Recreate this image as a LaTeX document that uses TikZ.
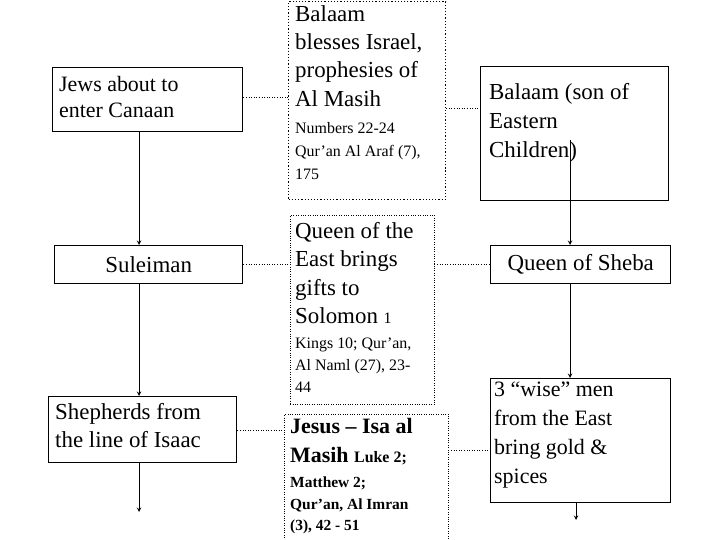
\documentclass[tikz,border=0pt]{standalone}
\usepackage{fontspec}
\setmainfont{Liberation Serif}
\newcommand{\bigf}{\fontsize{23}{28.5}\selectfont}
\newcommand{\smf}{\fontsize{16}{22}\selectfont}
\begin{document}
\begin{tikzpicture}[x=1bp,y=-1bp,
  sbox/.style={draw,line width=1.4pt,minimum width=#1,anchor=north west,inner sep=0pt},
  dbox/.style={draw,dotted,anchor=north west,inner sep=0pt},
  txt/.style={anchor=north west,align=left,inner sep=0pt},
  conn/.style={dotted,line width=0.6pt},
  arr/.style={-stealth,line width=1pt}]
\useasboundingbox (0,0) rectangle (720,540);
% left column
\node[sbox=190bp,minimum height=64bp] (a1) at (52,67) {};
\node[txt,font=\fontsize{22}{26}\selectfont] (a1t) at (59,76) {Jews about to\\enter Canaan};
\node[sbox=188bp,minimum height=38bp,font=\bigf] (a2) at (54,245) {Suleiman};
\node[sbox=188bp,minimum height=66bp] (a3) at (48,396) {};
\node[txt,font=\bigf] (a3t) at (55,403) {Shepherds from\\the line of Isaac};
\coordinate (aend) at (139,512);
% middle column
\node[dbox,line width=1.2pt,minimum width=157bp,minimum height=198bp] (b1) at (288,1) {};
\node[txt,font=\bigf] (b1t) at (295,5) {Balaam\\blesses Israel,\\prophesies of\\Al Masih};
\node[txt,font=\smf] (b1s) at (295,122) {Numbers 22-24};
\node[txt,font=\smf,align=left] (b1q) at (295,145) {Qur'an Al Araf (7),\\[1pt]175};
\node[dbox,minimum width=144bp,minimum height=189bp] (b2) at (290,215) {};
\node[txt,font=\bigf] (b2t) at (295,222) {Queen of the\\East brings\\gifts to\\Solomon {\smf 1}};
\node[txt,font=\smf] (b2s) at (295,338) {Kings 10; Qur'an,\\Al Naml (27), 23-\\44};
\node[dbox,minimum width=164bp,minimum height=130bp] (b3) at (284,414) {};
\node[txt,font=\fontsize{22}{29}\selectfont\bfseries] (b3t) at (290,418) {Jesus -- Isa al\\Masih {\smf Luke 2;}};
\node[txt,font=\fontsize{15.5}{21.5}\selectfont\bfseries] (b3s) at (290,477) {Matthew 2;\\Qur'an, Al Imran\\(3), 42 - 51};
% right column
\node[sbox=188bp,minimum height=134bp] (c1) at (480,66) {};
\node[txt,font=\fontsize{23}{29}\selectfont] (c1t) at (489,83) {Balaam (son of\\Eastern\\Children)};
\node[sbox=180bp,minimum height=38bp,font=\bigf] (c2) at (490,245) {Queen of Sheba};
\node[sbox=180bp,minimum height=124bp] (c3) at (490,378) {};
\node[txt,font=\fontsize{22}{29}\selectfont] (c3t) at (494,382) {3 ``wise'' men\\from the East\\bring gold \&\\spices};
\coordinate (ctop) at (570,140);
\coordinate (cend) at (576,520);
% arrows
\draw[arr] (a1.south -| aend) -- (a2.north -| aend);
\draw[arr] (a2.south -| aend) -- (a3.north -| aend);
\draw[arr] (a3.south -| aend) -- (aend);
\draw[arr] (ctop) -- (c2.north -| ctop);
\draw[arr] (c2.south -| ctop) -- (c3.north -| ctop);
\draw[arr] (c3.south -| cend) -- (cend);
% connectors
\draw[conn] (a1.east |- 0,97) -- (b1.west |- 0,97);
\draw[conn] (b1.east |- 0,108) -- (c1.west |- 0,108);
\draw[conn] (a2.east) -- (b2.west |- a2.east);
\draw[conn] (b2.east |- c2.west) -- (c2.west);
\draw[conn] (a3.east |- 0,430) -- (b3.west |- 0,430);
\draw[conn] (b3.east |- 0,450) -- (c3.west |- 0,450);
\end{tikzpicture}
\end{document}
